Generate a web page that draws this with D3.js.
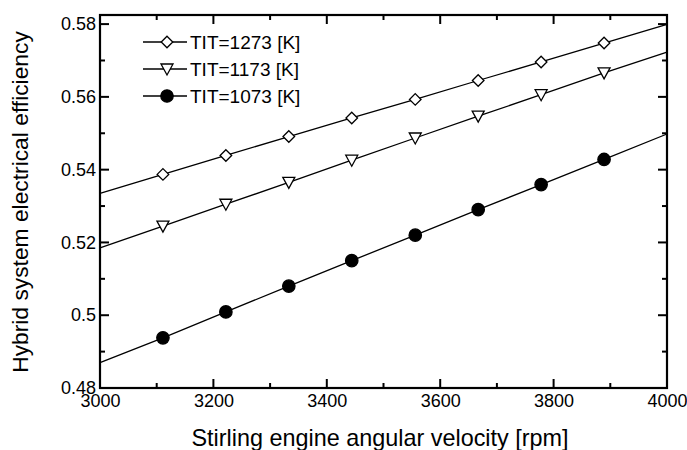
<!DOCTYPE html>
<html>
<head>
<meta charset="utf-8">
<script src="https://cdn.jsdelivr.net/npm/d3@7"></script>
<style>
  body { margin: 0; background: #fff; }
  text { font-family: "Liberation Sans", Arial, sans-serif; fill: #000; }
</style>
</head>
<body>
<svg width="687" height="450"></svg>
<script>
// rpm values, line runs 3000..4000, markers only on the inner points
var rpm = [3000, 3111, 3222, 3333, 3444, 3556, 3667, 3778, 3889, 4000];
var tit1273 = [0.5335, 0.5387, 0.5439, 0.5491, 0.5542, 0.5593, 0.5645, 0.5696, 0.5748, 0.5799];
var tit1173 = [0.5185, 0.5245, 0.5305, 0.5365, 0.5426, 0.5487, 0.5547, 0.5606, 0.5666, 0.5723];
var tit1073 = [0.4870, 0.4938, 0.5009, 0.5080, 0.5150, 0.5220, 0.5290, 0.5359, 0.5428, 0.5498];
var seriesNames = ["TIT=1273 [K]", "TIT=1173 [K]", "TIT=1073 [K]"];
var xTicks = [3000, 3200, 3400, 3600, 3800, 4000];
var xMinor = [3100, 3300, 3500, 3700, 3900];
var yTicks = [0.48, 0.5, 0.52, 0.54, 0.56, 0.58];
var yMinor = [0.49, 0.51, 0.53, 0.55, 0.57];

var svg = d3.select("svg"),
    margin = {top: 15, right: 20, bottom: 62, left: 100},
    width = +svg.attr("width") - margin.left - margin.right,
    height = +svg.attr("height") - margin.top - margin.bottom,
    g = svg.append("g").attr("transform", "translate(" + margin.left + "," + margin.top + ")");

var x = d3.scaleLinear().domain([3000, 4000]).range([0, width]);
var y = d3.scaleLinear().domain([0.48, 0.5825]).range([height, 0]);

// tick labels through d3 axes, tick marks drawn inward on all four sides
var xAxis = g.append("g").attr("transform", "translate(0," + height + ")")
  .call(d3.axisBottom(x).tickValues(xTicks).tickSize(0).tickPadding(6).tickFormat(d3.format("d")));
xAxis.select(".domain").remove();
xAxis.selectAll("text").style("font-size", "18px");

var yAxis = g.append("g")
  .call(d3.axisLeft(y).tickValues(yTicks).tickSize(0).tickPadding(4)
    .tickFormat(function(d) { return d === 0.5 ? "0.5" : d3.format(".2f")(d); }));
yAxis.select(".domain").remove();
yAxis.selectAll("text").style("font-size", "18px");

var ticks = g.append("g").attr("stroke", "#000").attr("stroke-width", 2);
[[xTicks, 9], [xMinor, 5]].forEach(function(t) {
  ticks.selectAll(null).data(t[0]).enter().append("line")
    .attr("x1", function(d) { return x(d); }).attr("x2", function(d) { return x(d); })
    .attr("y1", height).attr("y2", height - t[1]);
  ticks.selectAll(null).data(t[0]).enter().append("line")
    .attr("x1", function(d) { return x(d); }).attr("x2", function(d) { return x(d); })
    .attr("y1", 0).attr("y2", t[1]);
});
[[yTicks, 9], [yMinor, 5]].forEach(function(t) {
  ticks.selectAll(null).data(t[0]).enter().append("line")
    .attr("y1", function(d) { return y(d); }).attr("y2", function(d) { return y(d); })
    .attr("x1", 0).attr("x2", t[1]);
  ticks.selectAll(null).data(t[0]).enter().append("line")
    .attr("y1", function(d) { return y(d); }).attr("y2", function(d) { return y(d); })
    .attr("x1", width).attr("x2", width - t[1]);
});

g.append("rect").attr("width", width).attr("height", height)
  .attr("fill", "none").attr("stroke", "#000").attr("stroke-width", 2.2);

var series = [tit1273, tit1173, tit1073];
var symbols = [
  function(s) { return s.append("path").attr("d", d3.symbol(d3.symbolDiamond2, 85)()).attr("fill", "#fff"); },
  function(s) { return s.append("path").attr("d", "M-6,-5L6,-5L0,6Z").attr("fill", "#fff"); },
  function(s) { return s.append("circle").attr("r", 6.2).attr("fill", "#000"); }
];

var line = d3.line()
  .x(function(d, i) { return x(rpm[i]); })
  .y(function(d) { return y(d); });

series.forEach(function(vals, k) {
  g.append("path").datum(vals).attr("d", line)
    .attr("fill", "none").attr("stroke", "#000").attr("stroke-width", 1.3);
  var pts = g.selectAll(".pt" + k)
    .data(vals.slice(1, -1))
    .enter().append("g")
    .attr("transform", function(d, i) { return "translate(" + x(rpm[i + 1]) + "," + y(d) + ")"; });
  symbols[k](pts).attr("stroke", "#000").attr("stroke-width", 1.3);
});

// legend
var leg = svg.append("g").attr("transform", "translate(143,42)");
seriesNames.forEach(function(name, k) {
  var row = leg.append("g").attr("transform", "translate(0," + (k * 27) + ")");
  row.append("line").attr("x1", 0).attr("x2", 44).attr("stroke", "#000").attr("stroke-width", 1.3);
  var m = row.append("g").attr("transform", "translate(24,0)");
  symbols[k](m).attr("stroke", "#000").attr("stroke-width", 1.3);
  row.append("text").attr("x", 47).attr("dy", "0.36em").style("font-size", "19px").text(name);
});

svg.append("text")
  .attr("transform", "translate(28,202) rotate(-90)")
  .attr("text-anchor", "middle")
  .style("font-size", "22.8px")
  .text("Hybrid system electrical efficiency");

svg.append("text")
  .attr("x", 380).attr("y", 446)
  .attr("text-anchor", "middle")
  .style("font-size", "23.4px")
  .text("Stirling engine angular velocity [rpm]");
</script>
</body>
</html>
